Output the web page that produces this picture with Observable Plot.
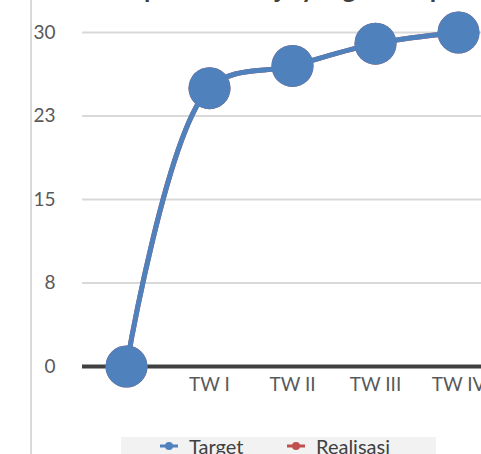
<!DOCTYPE html>
<html>
<head>
<meta charset="utf-8">
<script src="https://cdn.jsdelivr.net/npm/d3@7"></script>
<script src="https://cdn.jsdelivr.net/npm/@observablehq/plot@0.6"></script>
<style>
  html, body { margin: 0; padding: 0; background: #fff; overflow: hidden; width: 481px; height: 454px; }
  #wrap { position: relative; width: 481px; height: 454px; overflow: hidden; font-family: Lato, "Open Sans", sans-serif; }
  #title { position: absolute; left: 0; width: 600px; top: -28px; text-align: center; font-weight: bold; font-size: 26px; color: #404040; white-space: nowrap; }
  #border { position: absolute; left: 30px; top: 0; width: 0; height: 454px; border-left: 2px solid #d9d9d9; }
  #chart { position: absolute; left: 0; top: 0; width: 520px; }
  #chart svg { max-width: none !important; width: 520px; height: 420px; }
  #legend { position: absolute; left: 121px; top: 437px; width: 315px; height: 30px; background: #f2f2f2; font-size: 20px; color: #404040; }
  .li { position: absolute; top: -3px; display: flex; align-items: center; gap: 11px; }
</style>
</head>
<body>
<div id="wrap">
  <div id="border"></div>
  <div id="chart"></div>
  <div id="title">Capaian Kinerja yang ditetapkan</div>
  <div id="legend"></div>
</div>
<script>
const categories = ["", "TW I", "TW II", "TW III", "TW IV"];
const target = [0, 25, 27, 29, 30];
const realisasi = [0, 25, 27, 29, 30];
const yTicks = [0, 7.5, 15, 22.5, 30];
const seriesNames = ["Target", "Realisasi"];
const seriesColors = ["#4f81bd", "#c0504d"];

const rowsT = categories.map((c, i) => ({cat: c, v: target[i]}));
const rowsR = categories.map((c, i) => ({cat: c, v: realisasi[i]}));

const chart = Plot.plot({
  width: 520,
  height: 420,
  marginLeft: 82,
  marginRight: 19,
  marginTop: 32,
  marginBottom: 54,
  style: {fontFamily: "Lato, 'Open Sans', sans-serif", fontSize: "19px", color: "#595959", background: "transparent", overflow: "visible", maxWidth: "none"},
  x: {type: "point", domain: categories, padding: 0.5, label: null},
  y: {domain: [0, 30], label: null},
  marks: [
    Plot.ruleY(yTicks.filter(d => d > 0), {stroke: "#d9d9d9", strokeWidth: 2}),
    Plot.ruleY([0], {stroke: "#404040", strokeWidth: 4}),
    Plot.axisY({ticks: yTicks, tickSize: 0, tickPadding: 27, tickFormat: d => String(Math.round(d)), fill: "#595959"}),
    Plot.axisX({tickSize: 0, tickPadding: 11, fill: "#595959", tickFormat: d => d}),
    Plot.line(rowsR, {x: "cat", y: "v", stroke: seriesColors[1], strokeWidth: 5, curve: "catmull-rom"}),
    Plot.dot(rowsR, {x: "cat", y: "v", r: 21, fill: seriesColors[1]}),
    Plot.line(rowsT, {x: "cat", y: "v", stroke: seriesColors[0], strokeWidth: 5, curve: "catmull-rom"}),
    Plot.dot(rowsT, {x: "cat", y: "v", r: 21, fill: seriesColors[0]})
  ]
});
document.getElementById("chart").appendChild(chart);

const legend = document.getElementById("legend");
const lx = [39, 166];
seriesNames.forEach((name, i) => {
  const item = document.createElement("div");
  item.className = "li";
  item.style.left = lx[i] + "px";
  item.innerHTML = `<svg width="18" height="12"><line x1="0" x2="18" y1="6" y2="6" stroke="${seriesColors[i]}" stroke-width="3"/><circle cx="9" cy="6" r="4" fill="${seriesColors[i]}"/></svg><span>${name}</span>`;
  legend.appendChild(item);
});
</script>
</body>
</html>
